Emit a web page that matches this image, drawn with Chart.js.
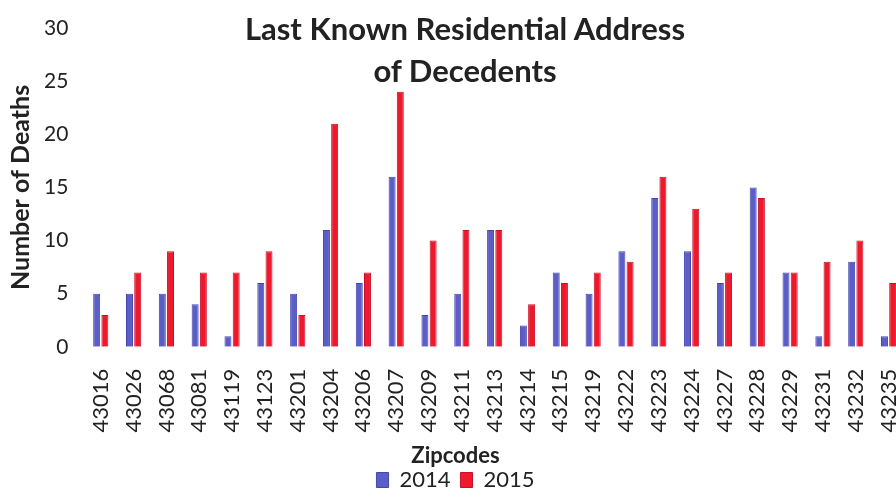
<!DOCTYPE html>
<html>
<head>
<meta charset="utf-8">
<script src="https://cdn.jsdelivr.net/npm/chart.js@4.4.0/dist/chart.umd.min.js"></script>
<style>
  html, body { margin: 0; padding: 0; background: #fff; overflow: hidden; }
  #wrap { position: relative; width: 930px; height: 489px; }
  #title {
    position: absolute; left: 0; top: 7px; width: 930px;
    text-align: center; font-family: Lato, sans-serif; font-weight: bold;
    font-size: 31px; line-height: 42px; color: #222;
  }
</style>
</head>
<body>
<div id="wrap">
  <canvas id="chart" width="930" height="489"></canvas>
  <div id="title">Last Known Residential Address<br>of Decedents</div>
</div>
<script>
// Данные графика
const zipcodes = ["43016", "43026", "43068", "43081", "43119", "43123", "43201", "43204", "43206", "43207",
  "43209", "43211", "43213", "43214", "43215", "43219", "43222", "43223", "43224", "43227",
  "43228", "43229", "43231", "43232", "43235"];
const deaths2014 = [5, 5, 5, 4, 1, 6, 5, 11, 6, 16, 3, 5, 11, 2, 7, 5, 9, 14, 9, 6, 15, 7, 1, 8, 1];
const deaths2015 = [3, 7, 9, 7, 7, 9, 3, 21, 7, 24, 10, 11, 11, 4, 6, 7, 8, 16, 13, 7, 14, 7, 8, 10, 6];
const yMax = 30;
const yStep = 5;

const textColor = "#222";

const ctx = document.getElementById("chart").getContext("2d");
const chart = new Chart(ctx, {
  type: "bar",
  data: {
    labels: zipcodes,
    datasets: [
      {
        label: "2014",
        data: deaths2014,
        backgroundColor: "#5b5ec6",
        borderColor: "#4446b0",
        borderWidth: 1,
        categoryPercentage: 0.5,
        barPercentage: 0.85,
      },
      {
        label: "2015",
        data: deaths2015,
        backgroundColor: "#ee1a2c",
        borderColor: "#c8102a",
        borderWidth: 1,
        categoryPercentage: 0.5,
        barPercentage: 0.85,
      },
    ],
  },
  options: {
    responsive: false,
    animation: false,
    // отрицательный отступ снизу — чтобы подпись и легенда легли плотно, как на скане
    layout: { padding: { top: 28, right: 25, left: 6, bottom: -12 } },
    plugins: {
      legend: {
        position: "bottom",
        weight: 1000,
        labels: {
          font: { family: "Lato", size: 22 },
          color: textColor,
          boxWidth: 12,
          boxHeight: 15,
          padding: 10,
        },
      },
      subtitle: {
        display: true,
        text: "Zipcodes",
        position: "bottom",
        weight: 500,
        font: { family: "Lato", size: 22, weight: "bold" },
        color: textColor,
        padding: { top: -4, bottom: -10 },
      },
      tooltip: { enabled: false },
    },
    scales: {
      x: {
        grid: { display: false },
        border: { display: false },
        ticks: {
          minRotation: 90,
          maxRotation: 90,
          autoSkip: false,
          padding: 14,
          font: { family: "Lato", size: 22 },
          color: textColor,
        },
      },
      y: {
        min: 0,
        max: yMax,
        grid: { display: false },
        border: { display: false },
        ticks: {
          stepSize: yStep,
          padding: 8,
          font: { family: "Lato", size: 21 },
          color: textColor,
        },
        title: {
          display: true,
          text: "Number of Deaths",
          padding: 0,
          font: { family: "Lato", size: 25, weight: "bold" },
          color: textColor,
        },
      },
    },
  },
});
</script>
</body>
</html>
